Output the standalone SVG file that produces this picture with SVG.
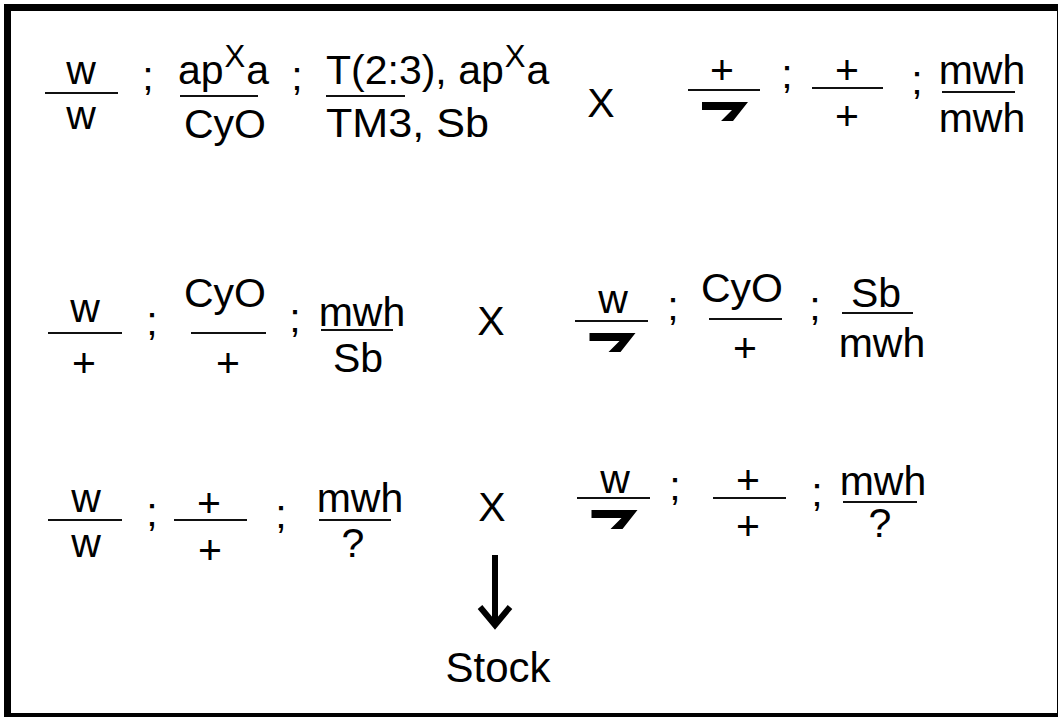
<svg xmlns="http://www.w3.org/2000/svg" width="1058" height="717" viewBox="0 0 1058 717">
<style>
text{font-family:"Liberation Sans",Arial,Helvetica,sans-serif;font-size:41px;fill:#000}
.m{text-anchor:middle}
.sup{font-size:31px}
.bar{stroke:#111;stroke-width:2;fill:none}
.y{fill:#000}
.arr{stroke:#000;stroke-width:6;fill:none;stroke-linejoin:miter}
</style>
<defs>
<path id="ychr" d="M-22,12 H24 L9,31 H-3 L8,20 H-22 Z"/>
</defs>
<rect x="0" y="0" width="1058" height="717" fill="#fff"/>
<rect x="7.5" y="7.5" width="1053" height="709" fill="none" stroke="#000" stroke-width="7"/>

<g id="row1">
<g id="r1-f1"><text class="m" x="81" y="84">w</text><line class="bar" x1="45" y1="93" x2="118" y2="93"/><text class="m" x="81" y="129">w</text></g>
<text class="m" x="148" y="90">;</text>
<g id="r1-f2"><text x="178" y="84">ap<tspan class="sup" dx="1" dy="-17">X</tspan><tspan dx="1" dy="17">a</tspan></text><line class="bar" x1="180" y1="96" x2="258" y2="96"/><text class="m" x="225" y="138">CyO</text></g>
<text class="m" x="297" y="90">;</text>
<g id="r1-f3"><text x="326" y="84">T(2:3), ap<tspan class="sup" dx="1" dy="-17">X</tspan><tspan dx="1" dy="17">a</tspan></text><line class="bar" x1="326" y1="96" x2="405" y2="96"/><text x="326" y="137" textLength="163" lengthAdjust="spacingAndGlyphs">TM3, Sb</text></g>
<text class="m" x="601" y="117">X</text>
<g id="r1-f4"><text class="m" x="722" y="84">+</text><line class="bar" x1="688" y1="90" x2="760" y2="90"/><use href="#ychr" class="y" x="724" y="90"/></g>
<text class="m" x="787" y="88">;</text>
<g id="r1-f5"><text class="m" x="847" y="84">+</text><line class="bar" x1="812" y1="88" x2="883" y2="88"/><text class="m" x="847" y="130">+</text></g>
<text class="m" x="917" y="94">;</text>
<g id="r1-f6"><text class="m" x="982" y="84">mwh</text><line class="bar" x1="942" y1="92" x2="1015" y2="92"/><text class="m" x="982" y="132">mwh</text></g>
</g>

<g id="row2">
<g id="r2-f1"><text class="m" x="85" y="322">w</text><line class="bar" x1="48" y1="333" x2="122" y2="333"/><text class="m" x="84" y="377">+</text></g>
<text class="m" x="152" y="335">;</text>
<g id="r2-f2"><text class="m" x="225" y="307">CyO</text><line class="bar" x1="191" y1="333" x2="266" y2="333"/><text class="m" x="228" y="377">+</text></g>
<text class="m" x="295" y="332">;</text>
<g id="r2-f3"><text class="m" x="362" y="326">mwh</text><line class="bar" x1="321" y1="330" x2="393" y2="330"/><text class="m" x="358" y="372">Sb</text></g>
<text class="m" x="491" y="335">X</text>
<g id="r2-f4"><text class="m" x="613" y="313">w</text><line class="bar" x1="575" y1="321" x2="648" y2="321"/><use href="#ychr" class="y" x="611.5" y="321"/></g>
<text class="m" x="673" y="320">;</text>
<g id="r2-f5"><text class="m" x="742" y="302">CyO</text><line class="bar" x1="709" y1="319" x2="782" y2="319"/><text class="m" x="745" y="362">+</text></g>
<text class="m" x="815" y="320">;</text>
<g id="r2-f6"><text class="m" x="876" y="307">Sb</text><line class="bar" x1="842" y1="313" x2="913" y2="313"/><text class="m" x="882" y="357">mwh</text></g>
</g>

<g id="row3">
<g id="r3-f1"><text class="m" x="86" y="512">w</text><line class="bar" x1="48" y1="520" x2="122" y2="520"/><text class="m" x="86" y="557">w</text></g>
<text class="m" x="152" y="526">;</text>
<g id="r3-f2"><text class="m" x="209" y="517">+</text><line class="bar" x1="174" y1="520" x2="247" y2="520"/><text class="m" x="210" y="564">+</text></g>
<text class="m" x="281" y="528">;</text>
<g id="r3-f3"><text class="m" x="360" y="512">mwh</text><line class="bar" x1="319" y1="520" x2="391" y2="520"/><text class="m" x="353" y="557">?</text></g>
<text class="m" x="492" y="521">X</text>
<g id="r3-f4"><text class="m" x="615" y="493">w</text><line class="bar" x1="577" y1="498" x2="650" y2="498"/><use href="#ychr" class="y" x="613.5" y="498"/></g>
<text class="m" x="675" y="500">;</text>
<g id="r3-f5"><text class="m" x="748" y="494">+</text><line class="bar" x1="713" y1="498" x2="786" y2="498"/><text class="m" x="748" y="540">+</text></g>
<text class="m" x="817" y="506">;</text>
<g id="r3-f6"><text class="m" x="883" y="495">mwh</text><line class="bar" x1="843" y1="502" x2="917" y2="502"/><text class="m" x="880" y="537">?</text></g>
</g>

<g id="connectors">
<line class="arr" x1="495" y1="555" x2="495" y2="624"/>
<polyline class="arr" points="480,607 495,625 510,607"/>
</g>
<g id="stock"><text class="m" x="498" y="682" style="font-size:42px">Stock</text></g>
</svg>
